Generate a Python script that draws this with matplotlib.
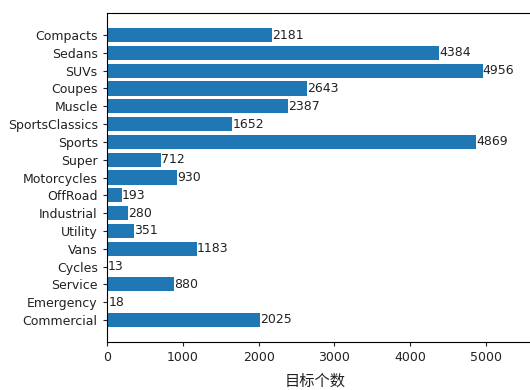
import matplotlib
matplotlib.use("Agg")
import matplotlib.pyplot as plt

categories = ["Compacts", "Sedans", "SUVs", "Coupes", "Muscle", "SportsClassics",
              "Sports", "Super", "Motorcycles", "OffRoad", "Industrial", "Utility",
              "Vans", "Cycles", "Service", "Emergency", "Commercial"]
counts = [2181, 4384, 4956, 2643, 2387, 1652, 4869, 712, 930, 193, 280, 351,
          1183, 13, 880, 18, 2025]
xticks = [0, 1000, 2000, 3000, 4000, 5000]
xlabel = "目标个数"

plt.rcParams['font.family'] = ['DejaVu Sans']
W, H = 530, 390
fig = plt.figure(figsize=(W / 100, H / 100), dpi=100)
left, right, top, bottom = 107, 533, 13, 342
ax = fig.add_axes([left / W, (H - bottom) / H, (right - left) / W, (bottom - top) / H])

bars = ax.barh(categories, counts, color="#1f77b4", height=0.8)
ax.bar_label(bars, labels=[str(c) for c in counts], fontsize=9, color="#222222")
ax.invert_yaxis()
px_per_1000 = (486 - 107) / 5
ax.set_xlim(0, (right - left) / px_per_1000 * 1000)
ax.set_xticks(xticks)
ax.tick_params(labelsize=9, length=3.2, width=0.8, colors="#222222")
for s in ax.spines.values():
    s.set_linewidth(0.8)
ax.set_xlabel(xlabel, family=['Noto Sans CJK SC', 'DejaVu Sans'], fontsize=11, color="#222222")
ax.xaxis.set_label_coords((315 - left) / (right - left), -(373 - bottom) / (bottom - top), transform=ax.transAxes)
ax.xaxis.label.set_va('top')

fig.savefig("out.png", dpi=100)
